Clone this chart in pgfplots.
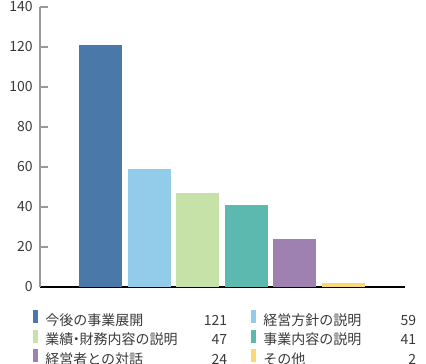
\documentclass[border=0pt]{standalone}
\usepackage{fontspec}
\setmainfont{Noto Sans CJK JP}
\usepackage{pgfplots}
\pgfplotsset{compat=1.18}
\definecolor{txt}{HTML}{3A3A3A}
\definecolor{cA}{HTML}{4A78A8}
\definecolor{cB}{HTML}{93CCEA}
\definecolor{cC}{HTML}{C6E2A8}
\definecolor{cD}{HTML}{5CB9B0}
\definecolor{cE}{HTML}{9E80B1}
\definecolor{cF}{HTML}{FBD876}
\newcommand{\la}[2]{\makebox[136.5pt][l]{#1\hfill #2}}
\newcommand{\lb}[2]{\makebox[114.75pt][l]{#1\hfill #2}}
\begin{document}
\fontsize{10.5pt}{12pt}\selectfont
\begin{tikzpicture}
\begin{axis}[
  name=ax,
  scale only axis,
  width=273.75pt, height=210pt,
  xmin=-1.245, xmax=6.265,
  ymin=0, ymax=140,
  enlargelimits=false,
  axis x line=bottom, axis y line=left,
  axis line style={-},
  x axis line style={black, line width=1.1pt},
  y axis line style={gray!80, line width=0.8pt},
  xtick=\empty,
  ytick={0,20,...,140},
  tick align=inside,
  major tick length=6pt,
  ytick style={gray!80, line width=0.8pt},
  yticklabel style={inner sep=0pt, anchor=east, xshift=-5.25pt, text=txt},
  /pgf/number format/assume math mode=true,
  ybar, bar shift=0pt, bar width=0.885,
  legend columns=2,
  legend style={at={(axis description cs:0,0)}, anchor=north west,
    xshift=-5.25pt, yshift=-17.25pt, draw=none, fill=none, inner sep=0pt,
    text=txt,
    nodes={inner sep=0pt, text height=8.5pt, text depth=2.5pt},
    row sep=0.8pt,
    /tikz/every odd column/.append style={column sep=5.25pt},
    /tikz/every even column/.append style={column sep=18pt}},
  legend image code/.code={\fill[#1] (0pt,-1.5pt) rectangle (3.75pt,8.25pt);},
]
\addplot[fill=cA, draw=none] coordinates {(0,121)};
\addlegendentry{\la{今後の事業展開}{121}}
\addplot[fill=cB, draw=none] coordinates {(1,59)};
\addlegendentry{\lb{経営方針の説明}{59}}
\addplot[fill=cC, draw=none] coordinates {(2,47)};
\addlegendentry{\la{業績\hspace{-0.27em}・\hspace{-0.27em}財務内容の説明}{47}}
\addplot[fill=cD, draw=none] coordinates {(3,41)};
\addlegendentry{\lb{事業内容の説明}{41}}
\addplot[fill=cE, draw=none] coordinates {(4,24)};
\addlegendentry{\la{経営者との対話}{24}}
\addplot[fill=cF, draw=none] coordinates {(5,2)};
\addlegendentry{\lb{その他}{2}}
\end{axis}
\pgfresetboundingbox
\path (ax.south west) ++(-30pt,-57.75pt) rectangle ++(319.5pt,273pt);
\end{tikzpicture}
\end{document}
